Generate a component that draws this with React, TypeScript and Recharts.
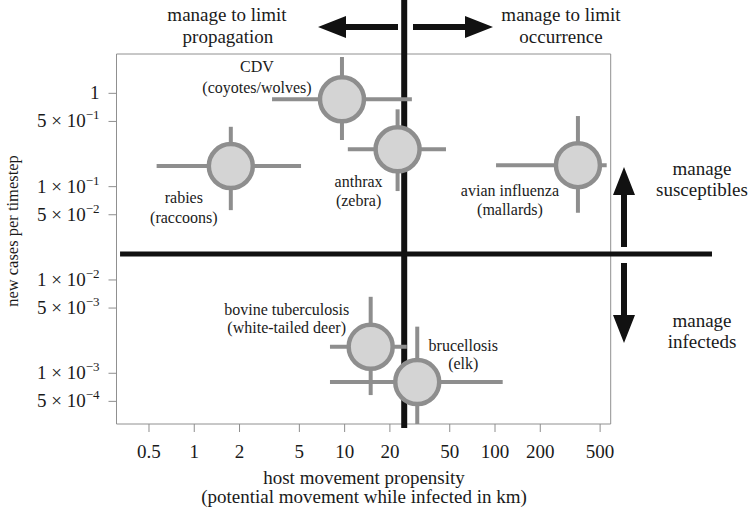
import React from "react";
import {
  ScatterChart,
  Scatter,
  XAxis,
  YAxis,
  ErrorBar,
  ReferenceLine,
  ReferenceArea
} from "recharts";

const SERIF = '"Liberation Serif", "Times New Roman", serif';
const INK = "#1a1a1a";
const GREY = "#8e8e8e";

// values (log-log axes)
const diseases = ["CDV", "rabies", "anthrax", "avian influenza", "bovine tuberculosis", "brucellosis"];
const hosts = ["(coyotes/wolves)", "(raccoons)", "(zebra)", "(mallards)", "(white-tailed deer)", "(elk)"];
const movement = [9.6, 1.75, 22.5, 356, 14.9, 30.4];
const movementLow = [3.29, 0.562, 10.5, 101.6, 7.99, 7.99];
const movementHigh = [28.0, 5.13, 47.2, 553, 25.9, 112.5];
const cases = [0.862, 0.166, 0.251, 0.17, 0.00192, 0.000805];
const casesLow = [0.316, 0.056, 0.0897, 0.0525, 0.000584, 0.000286];
const casesHigh = [2.45, 0.438, 0.674, 0.571, 0.0066, 0.00316];

const xTicks = [0.5, 1, 2, 5, 10, 20, 50, 100, 200, 500];
const yTicks = [1, 0.5, 0.1, 0.05, 0.01, 0.005, 0.001, 0.0005];
const xDomain = [0.304, 588];
const yDomain = [0.000286, 2.64];

// management thresholds and how far the thick lines run
const movementThreshold = 24.9;
const casesThreshold = 0.019;
const thresholdLineY = [10, 0.000259];
const thresholdLineX = [0.321, 2773];

// label placement relative to each bubble: [dx, dy line 1, dy line 2]
const labelOffset: Record<string, number[]> = {
  CDV: [-85, -27, -6],
  rabies: [-47, 37, 57],
  anthrax: [-39, 38, 57],
  "avian influenza": [-68, 31, 50],
  "bovine tuberculosis": [-84, -32, -14],
  brucellosis: [46, -31, -13]
};

const data = diseases.map((name, i) => ({
  name,
  host: hosts[i],
  x: movement[i],
  y: cases[i],
  ex: [movement[i] - movementLow[i], movementHigh[i] - movement[i]],
  ey: [cases[i] - casesLow[i], casesHigh[i] - cases[i]]
}));

const W = 750;
const H = 510;
const PLOT = { top: 54, right: 139.3, bottom: 86, left: 116.5 };

function Bubble(props: any) {
  const { cx, cy, payload } = props;
  const [dx, dy1, dy2] = labelOffset[payload.name];
  return (
    <g>
      <circle cx={cx} cy={cy} r={22} fill="#d4d4d4" stroke={GREY} strokeWidth={4.5} />
      <text x={cx + dx} y={cy + dy1} textAnchor="middle" fontSize={16} fontFamily={SERIF} fill={INK}>
        {payload.name}
      </text>
      <text x={cx + dx} y={cy + dy2} textAnchor="middle" fontSize={16} fontFamily={SERIF} fill={INK}>
        {payload.host}
      </text>
    </g>
  );
}

function XTick({ x, y, payload }: any) {
  return (
    <text x={x} y={y} dy={24} textAnchor="middle" fontSize={19} fontFamily={SERIF} fill={INK}>
      {payload.value}
    </text>
  );
}

function YTick({ x, y, payload }: any) {
  const v = payload.value;
  if (v === 1) {
    return (
      <text x={x - 7} y={y} dy={6} textAnchor="end" fontSize={19} fontFamily={SERIF} fill={INK}>
        1
      </text>
    );
  }
  const exp = Math.floor(Math.log10(v) + 1e-9);
  const mant = Math.round(v / Math.pow(10, exp));
  return (
    <text x={x - 7} y={y} dy={6} textAnchor="end" fontSize={19} fontFamily={SERIF} fill={INK}>
      <tspan>{`${mant} × 10`}</tspan>
      <tspan dy={-8} fontSize={13}>{`\u2212${-exp}`}</tspan>
    </text>
  );
}

function arrowPoints(x1: number, y1: number, x2: number, y2: number, shaft = 6, headLen = 28, headW = 22) {
  const len = Math.hypot(x2 - x1, y2 - y1);
  const ux = (x2 - x1) / len;
  const uy = (y2 - y1) / len;
  const px = -uy;
  const py = ux;
  const bx = x2 - ux * headLen;
  const by = y2 - uy * headLen;
  const s = shaft / 2;
  const h = headW / 2;
  return [
    [x1 + px * s, y1 + py * s],
    [bx + px * s, by + py * s],
    [bx + px * h, by + py * h],
    [x2, y2],
    [bx - px * h, by - py * h],
    [bx - px * s, by - py * s],
    [x1 - px * s, y1 - py * s]
  ]
    .map((p) => p.join(","))
    .join(" ");
}

function Annotations() {
  const t = { fontFamily: SERIF, fontSize: 19, fill: INK, textAnchor: "middle" as const };
  return (
    <svg width={W} height={H} style={{ position: "absolute", left: 0, top: 0, pointerEvents: "none" }}>
      <polygon points={arrowPoints(398, 27, 318, 27)} fill="#111" />
      <polygon points={arrowPoints(413, 27, 493, 27)} fill="#111" />
      <polygon points={arrowPoints(624, 247, 624, 167)} fill="#111" />
      <polygon points={arrowPoints(624, 263, 624, 343)} fill="#111" />

      <text x={227} y={21} {...t}>manage to limit</text>
      <text x={228} y={43} {...t}>propagation</text>
      <text x={561} y={21} {...t}>manage to limit</text>
      <text x={561} y={43} {...t}>occurrence</text>
      <text x={702} y={175} {...t}>manage</text>
      <text x={702} y={196} {...t}>susceptibles</text>
      <text x={702} y={327} {...t}>manage</text>
      <text x={702} y={348} {...t}>infecteds</text>

      <text x={364} y={484} {...t}>host movement propensity</text>
      <text x={364} y={503} {...t}>(potential movement while infected in km)</text>
      <text
        x={17.5}
        y={231}
        transform="rotate(-90 17.5 231)"
        fontFamily={SERIF}
        fontSize={16.5}
        fill={INK}
        textAnchor="middle"
      >
        new cases per timestep
      </text>
    </svg>
  );
}

// bottom layer: axes, frame and the two threshold lines
function BaseChart() {
  return (
    <ScatterChart
      width={W}
      height={H}
      margin={{ top: PLOT.top, right: PLOT.right, bottom: PLOT.bottom - 60, left: PLOT.left - 100 }}
    >
      <XAxis
        dataKey="x"
        type="number"
        scale="log"
        domain={xDomain}
        allowDataOverflow
        ticks={xTicks}
        tick={<XTick />}
        tickSize={8}
        axisLine={false}
        stroke={GREY}
        height={60}
      />
      <YAxis
        dataKey="y"
        type="number"
        scale="log"
        domain={yDomain}
        allowDataOverflow
        ticks={yTicks}
        tick={<YTick />}
        tickSize={8}
        axisLine={false}
        stroke={GREY}
        width={100}
      />
      <ReferenceArea
        x1={xDomain[0]}
        x2={xDomain[1]}
        y1={yDomain[0]}
        y2={yDomain[1]}
        fill="none"
        stroke="#909090"
        strokeWidth={1}
        ifOverflow="visible"
      />
      <ReferenceLine
        segment={[
          { x: movementThreshold, y: thresholdLineY[0] },
          { x: movementThreshold, y: thresholdLineY[1] }
        ]}
        stroke="#111"
        strokeWidth={6}
        ifOverflow="visible"
      />
      <ReferenceLine
        segment={[
          { x: thresholdLineX[0], y: casesThreshold },
          { x: thresholdLineX[1], y: casesThreshold }
        ]}
        stroke="#111"
        strokeWidth={5}
        ifOverflow="visible"
      />
    </ScatterChart>
  );
}

// top layer: bubbles with their ranges, on the same scales
function BubbleChart() {
  return (
    <ScatterChart width={W} height={H} margin={PLOT}>
      <XAxis dataKey="x" type="number" scale="log" domain={xDomain} allowDataOverflow hide />
      <YAxis dataKey="y" type="number" scale="log" domain={yDomain} allowDataOverflow hide />
      <Scatter data={data} shape={<Bubble />} isAnimationActive={false}>
        <ErrorBar dataKey="ex" direction="x" width={0} stroke={GREY} strokeWidth={4} />
        <ErrorBar dataKey="ey" direction="y" width={0} stroke={GREY} strokeWidth={4} />
      </Scatter>
    </ScatterChart>
  );
}

export default function App() {
  return (
    <div style={{ position: "absolute", left: 0, top: 0, width: W, height: H, background: "#fff" }}>
      <BaseChart />
      <div style={{ position: "absolute", left: 0, top: 0 }}>
        <BubbleChart />
      </div>
      <Annotations />
    </div>
  );
}
